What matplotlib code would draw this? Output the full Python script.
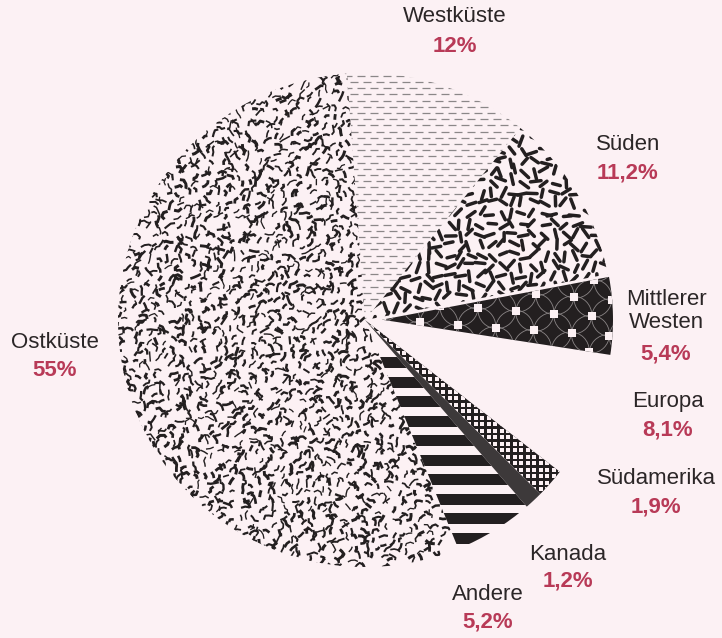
import numpy as np
import matplotlib.pyplot as plt
from matplotlib.collections import LineCollection, PatchCollection
from matplotlib.patches import Circle

# === Data ===
regions = ["Westküste", "Süden", "Mittlerer\nWesten", "Europa",
           "Südamerika", "Kanada", "Andere", "Ostküste"]
shares = [12, 11.2, 5.4, 8.1, 1.9, 1.2, 5.2, 55]
share_labels = ["12%", "11,2%", "5,4%", "8,1%", "1,9%", "1,2%", "5,2%", "55%"]

# label placement (pixel coords from top-left): x, y of name, y of share
label_pos = [(455, 17, 46), (628, 145, 173), (666, 311, 354), (668, 402, 430),
             (656, 478, 507), (568, 554, 581), (488, 594, 622), (55, 343, 371)]

BG = "#fcf1f4"
INK = "#231f20"
RED = "#b83a57"
W, H = 722, 638

plt.rcParams["font.family"] = ["Liberation Sans", "DejaVu Sans"]

fig = plt.figure(figsize=(W / 100, H / 100), dpi=100, facecolor=BG)
ax = fig.add_axes([0, 0, 1, 1])
ax.set_facecolor(BG)

# pie drawn in pixel-sized data units (explode is in data units too)
CX, CY, R = 365, 318, 247
wedges, _ = ax.pie(shares, startangle=94.2, counterclock=False, radius=R,
                   center=(CX, CY), explode=[0, 0, 17, 0, 0, 0, 0, 0],
                   colors=["none"] * len(shares), wedgeprops=dict(linewidth=0))
ax.set_xlim(0, W)
ax.set_ylim(0, H)
ax.set_aspect("equal")
ax.axis("off")

w_west, w_sued, w_mw, w_eu, w_sa, w_ka, w_and, w_ost = wedges
w_mw.set_radius(231)
w_mw.set_facecolor(INK)
w_sa.set_facecolor(INK)
w_ka.set_facecolor("#3d393a")

rng = np.random.default_rng(11)   # texture only


def add_clipped(coll, wedge):
    ax.add_collection(coll)
    coll.set_clip_path(wedge)


# --- Westküste: grey horizontal dashes ---
segs = []
for k, y in enumerate(np.arange(CY - 10, CY + R + 8, 6.2)):
    off = (k % 2) * 6.5
    for x in np.arange(CX - 80 + off, CX + 220, 13):
        segs.append([(x, y), (x + 8, y)])
add_clipped(LineCollection(segs, colors="#8b8788", linewidths=0.9), w_west)

# --- Süden: short black bars ---
segs = []
for y in np.arange(CY - 30, CY + R + 10, 10.5):
    for x in np.arange(CX - 10, CX + R + 10, 10.5):
        px, py = x + rng.uniform(-3, 3), y + rng.uniform(-3, 3)
        a = rng.uniform(0, np.pi)
        L = rng.uniform(8, 11) / 2
        segs.append([(px - L * np.cos(a), py - L * np.sin(a)),
                     (px + L * np.cos(a), py + L * np.sin(a))])
add_clipped(LineCollection(segs, colors=INK, linewidths=2.5, capstyle="round"), w_sued)

# --- Ostküste: squiggles ---
segs, widths = [], []
for y in np.arange(CY - R - 10, CY + R + 10, 8.3):
    for x in np.arange(CX - R - 10, CX + 80, 8.3):
        px, py = x + rng.uniform(-3.5, 3.5), y + rng.uniform(-3.5, 3.5)
        a = np.radians(rng.normal(60, 45))
        pts = [(px, py)]
        for _ in range(rng.integers(2, 4)):
            step = rng.uniform(2.5, 4.5)
            px, py = px + step * np.cos(a), py + step * np.sin(a)
            pts.append((px, py))
            a += np.radians(rng.uniform(-70, 70))
        segs.append(pts)
        widths.append(rng.uniform(0.9, 2.2))
add_clipped(LineCollection(segs, colors=INK, linewidths=widths, capstyle="butt"), w_ost)

# --- Mittlerer Westen: circles and white squares ---
rot = np.radians(-4)
mx, my = w_mw.center
circ, dia = [], []
for j in range(-6, 7):
    for i in range(-4, 18):
        u, v = i * 19.0, j * 18.0
        px = mx + u * np.cos(rot) - v * np.sin(rot)
        py = my + u * np.sin(rot) + v * np.cos(rot)
        if (i + j) % 2 == 0:
            dia.append((px, py))
        else:
            circ.append(Circle((px, py), 19))
pc = PatchCollection(circ, facecolor="none", edgecolor="#8a8586", linewidth=0.6)
add_clipped(pc, w_mw)
dia = np.array(dia)
sc = ax.scatter(dia[:, 0], dia[:, 1], marker="s", s=26, c=BG, linewidths=0)
sc.set_clip_path(w_mw)

# --- Südamerika: checker grid ---
gx, gy = np.meshgrid(np.arange(CX, CX + R, 6.5), np.arange(CY - R, CY, 6.5))
sc = ax.scatter(gx.ravel(), gy.ravel(), marker="s", s=6.5, c=BG, linewidths=0)
sc.set_clip_path(w_sa)

# --- Andere: black horizontal stripes ---
for y0 in np.arange(270 - 19.5 * 14, 280, 19.5):
    band = ax.axhspan(y0, y0 + 11, color=INK, linewidth=0)
    band.set_clip_path(w_and)

# --- Labels ---
for name, pct, (x, y1, y2) in zip(regions, share_labels, label_pos):
    ax.text(x, H - y1, name, ha="center", va="center", fontsize=16,
            color="#2b2627", linespacing=1.15)
    ax.text(x, H - y2, pct, ha="center", va="center", fontsize=16,
            color=RED, fontweight="bold")

fig.savefig("out.png", dpi=100, facecolor=BG)
